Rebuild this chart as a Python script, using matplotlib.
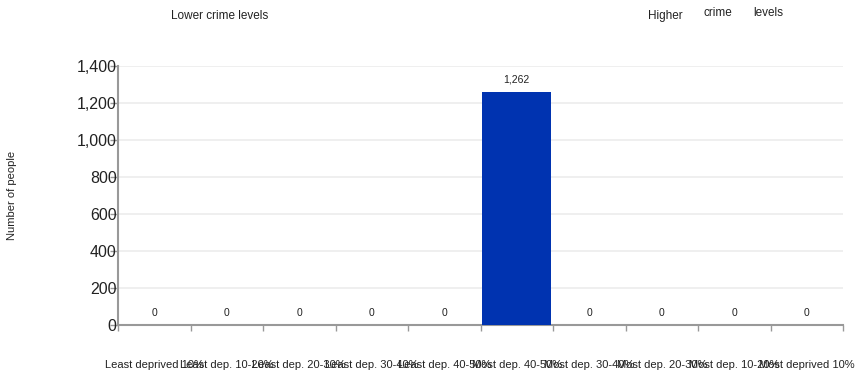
import numpy as np
import matplotlib
matplotlib.use("Agg")
import matplotlib.pyplot as plt

plt.rcParams['font.family'] = ['Liberation Sans', 'DejaVu Sans']

categories = ["Least deprived 10%", "Least dep. 10-20%", "Least dep. 20-30%",
              "Least dep. 30-40%", "Least dep. 40-50%", "Most dep. 40-50%",
              "Most dep. 30-40%", "Most dep. 20-30%", "Most dep. 10-20%",
              "Most deprived 10%"]
people = [0, 0, 0, 0, 0, 1262, 0, 0, 0, 0]
yticks = [0, 200, 400, 600, 800, 1000, 1200, 1400]

fig = plt.figure(figsize=(8.63, 3.77), dpi=100)
ax = fig.add_axes([118 / 863, 1 - 325 / 377, (843 - 118) / 863, (325 - 66) / 377])

x = np.arange(len(categories))
ax.bar(x, people, width=0.95, color='#0033b0', zorder=3)

for xi, v in zip(x, people):
    ax.text(xi, v + 40, f"{v:,}", ha='center', va='bottom', fontsize=7.5, color='#222222')

ax.set_xlim(-0.5, len(categories) - 0.5)
ax.set_ylim(0, 1400)
ax.set_yticks(yticks)
ax.set_yticklabels([f"{t:,}" for t in yticks], fontsize=11.5, color='#222222')
ax.tick_params(axis='y', length=6, width=1, color='#999999', pad=-5)

ax.set_xticks(np.arange(len(categories) + 1) - 0.5)
ax.set_xticklabels([])
ax.tick_params(axis='x', length=4, width=1, color='#999999', direction='out')
for xi, lab in zip(x, categories):
    ax.text(xi, -0.155, lab, transform=ax.get_xaxis_transform(), ha='center', va='center',
            fontsize=8, color='#222222')

ax.grid(axis='y', color='#ececec', linewidth=1.2, zorder=0)
for s in ['top', 'right']:
    ax.spines[s].set_visible(False)
ax.spines['left'].set_color('#999999')
ax.spines['bottom'].set_color('#999999')
ax.spines['left'].set_linewidth(1.5)
ax.spines['bottom'].set_linewidth(1.5)

fig.text(12 / 863, 1 - 195 / 377, "Number of people", rotation=90, ha='center', va='center',
         fontsize=8, color='#222222')
fig.text(220 / 863, 1 - 16 / 377, "Lower crime levels", ha='center', va='center', fontsize=8.5, color='#222222')
fig.text(665 / 863, 1 - 16 / 377, "Higher", ha='center', va='center', fontsize=8.5, color='#222222')
fig.text(718 / 863, 1 - 13 / 377, "crime", ha='center', va='center', fontsize=8.5, color='#222222')
fig.text(768 / 863, 1 - 13 / 377, "levels", ha='center', va='center', fontsize=8.5, color='#222222')

fig.savefig("out.png", dpi=100)
